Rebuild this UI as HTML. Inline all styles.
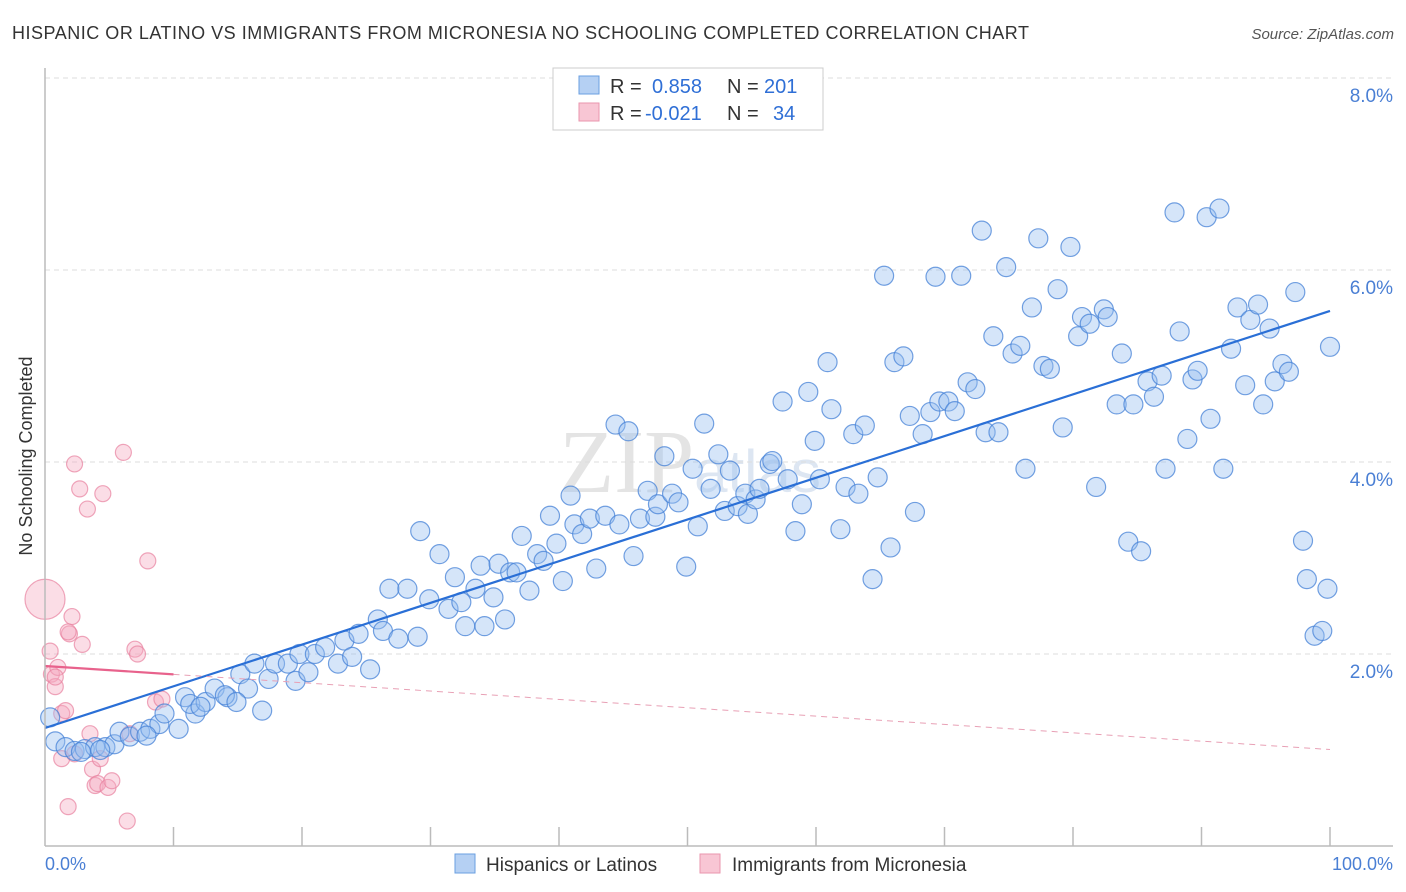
<!DOCTYPE html>
<html><head><meta charset="utf-8"><style>
body{margin:0;background:#fff;font-family:"Liberation Sans",sans-serif;}
#wrap{position:relative;width:1406px;height:892px;overflow:hidden;}
</style></head><body>
<div id="wrap">
<svg id="chart" width="1406" height="892">
<text x="12" y="39" font-size="18" fill="#333" textLength="1017" lengthAdjust="spacing">HISPANIC OR LATINO VS IMMIGRANTS FROM MICRONESIA NO SCHOOLING COMPLETED CORRELATION CHART</text>
<text x="1394" y="39" font-size="15" fill="#555" font-style="italic" text-anchor="end">Source: ZipAtlas.com</text>
<text x="32" y="456" font-size="18" fill="#333" text-anchor="middle" transform="rotate(-90 32 456)">No Schooling Completed</text>
<text x="690" y="492" font-size="90" fill="#e4e4e4" text-anchor="middle" font-family="Liberation Serif,serif">ZIP<tspan font-size="60" font-family="Liberation Sans,sans-serif" fill="#dde6f2">atlas</tspan></text>
<g id="grid"></g><g id="pink"></g><g id="blue"></g><g id="lines"></g>
<line x1="45" y1="68" x2="45" y2="846" stroke="#bbb" stroke-width="1.5"/>
<line x1="45" y1="846" x2="1393" y2="846" stroke="#bbb" stroke-width="1.5"/>
<g id="ticks"></g>
<text x="45" y="870" font-size="18" fill="#4a7fd4">0.0%</text>
<text x="1393" y="870" font-size="18" fill="#4a7fd4" text-anchor="end">100.0%</text>
<g>
<rect x="553" y="68" width="270" height="62" fill="#fff" stroke="#ccc"/>
<rect x="579" y="76" width="20" height="18" fill="#b5d0f3" stroke="#6a9fe0"/>
<rect x="579" y="103" width="20" height="18" fill="#f8c6d4" stroke="#ea96ae"/>
<text x="610" y="93" font-size="20" fill="#333">R = <tspan fill="#2f6fd6" x="652">0.858</tspan><tspan x="727" fill="#333">N = </tspan><tspan fill="#2f6fd6" x="764">201</tspan></text>
<text x="610" y="120" font-size="20" fill="#333">R = <tspan fill="#2f6fd6" x="645">-0.021</tspan><tspan x="727" fill="#333">N = </tspan><tspan fill="#2f6fd6" x="773">34</tspan></text>
</g>
<g>
<rect x="455" y="854" width="20" height="19" fill="#b5d0f3" stroke="#6a9fe0"/>
<text x="486" y="871" font-size="19" fill="#333">Hispanics or Latinos</text>
<rect x="700" y="854" width="20" height="19" fill="#f8c6d4" stroke="#ea96ae"/>
<text x="732" y="871" font-size="19" fill="#333">Immigrants from Micronesia</text>
</g>
</svg></div>
<script>
const yTicks=[2,4,6,8];
const yTickLabels=["2.0%","4.0%","6.0%","8.0%"];
const blueX=[0.4,0.8,1.6,2.3,3.1,3.9,4.7,5.4,5.8,6.6,7.4,8.2,8.9,9.3,10.4,10.9,11.7,11.3,12.5,13.2,14.2,15.2,15.8,16.3,16.9,17.4,17.9,18.9,19.5,19.8,20.5,21,21.8,22.8,23.3,23.9,24.4,25.3,25.9,26.3,27.5,26.8,28.2,29,29.2,29.9,30.7,31.4,31.9,32.4,32.7,33.5,33.9,34.2,34.9,35.3,35.8,36.2,36.7,37.1,37.7,38.3,38.8,39.3,39.8,40.3,40.9,41.2,41.8,42.4,42.9,43.6,44.4,44.7,45.4,45.8,46.3,46.9,47.5,47.7,48.2,48.8,49.3,49.9,50.4,50.8,51.3,51.8,52.4,52.9,53.3,53.9,54.5,54.7,55.3,55.6,56.4,56.6,57.4,57.8,58.4,58.9,59.4,59.9,60.3,60.9,61.2,61.9,62.3,62.9,63.3,63.8,64.4,64.8,65.3,65.8,66.1,66.8,67.3,67.7,68.3,68.9,69.3,69.6,70.3,70.8,71.3,71.8,72.4,72.9,73.2,73.8,74.2,74.8,75.3,75.9,76.3,76.8,77.3,77.7,78.2,78.8,79.2,79.8,80.4,80.7,81.3,81.8,82.4,82.7,83.4,83.8,84.3,84.7,85.3,85.8,86.3,86.9,87.2,87.9,88.3,88.9,89.3,89.7,90.4,90.7,91.4,91.7,92.3,92.8,93.4,93.8,94.4,94.8,95.3,95.7,96.3,96.8,97.3,97.9,98.2,98.8,99.4,99.8,100,12.1,14,14.9,2.8,4.3,7.9];
const blueY=[1.34,1.09,1.03,0.99,1.01,1.03,1.03,1.06,1.19,1.14,1.19,1.22,1.27,1.38,1.22,1.55,1.38,1.48,1.5,1.64,1.55,1.79,1.64,1.9,1.41,1.74,1.9,1.9,1.72,2.0,1.81,2.0,2.07,1.9,2.14,1.97,2.21,1.84,2.36,2.24,2.16,2.68,2.68,2.18,3.28,2.57,3.04,2.47,2.8,2.54,2.29,2.68,2.92,2.29,2.59,2.94,2.36,2.85,2.85,3.23,2.66,3.04,2.97,3.44,3.15,2.76,3.65,3.35,3.25,3.41,2.89,3.44,4.39,3.35,4.32,3.02,3.41,3.7,3.43,3.56,4.06,3.67,3.58,2.91,3.93,3.33,4.4,3.72,4.08,3.49,3.91,3.54,3.67,3.46,3.61,3.72,3.98,4.01,4.63,3.82,3.28,3.56,4.73,4.22,3.82,5.04,4.55,3.3,3.74,4.29,3.67,4.38,2.78,3.84,5.94,3.11,5.04,5.1,4.48,3.48,4.29,4.52,5.93,4.63,4.63,4.53,5.94,4.83,4.76,6.41,4.31,5.31,4.31,6.03,5.13,5.21,3.93,5.61,6.33,5.0,4.97,5.8,4.36,6.24,5.31,5.51,5.44,3.74,5.59,5.51,4.6,5.13,3.17,4.6,3.07,4.84,4.68,4.9,3.93,6.6,5.36,4.24,4.86,4.95,6.55,4.45,6.64,3.93,5.18,5.61,4.8,5.48,5.64,4.6,5.39,4.84,5.02,4.94,5.77,3.18,2.78,2.19,2.24,2.68,5.2,1.45,1.57,1.5,0.98,1.0,1.15];
const pinkX=[0,0.4,0.5,0.8,1,0.8,1.3,1.6,1.8,2.1,1.9,1.8,2.3,2.7,2.9,3.3,3.5,3.7,3.9,4.1,4.3,4.5,4.9,5.2,6.1,6.4,6.6,7,7.2,8,8.6,9.1,1.3,2.3];
const pinkY=[2.57,2.03,1.79,1.66,1.86,1.76,1.38,1.41,0.41,2.39,2.21,2.23,3.98,3.72,2.1,3.51,1.17,0.8,0.63,0.65,0.91,3.67,0.61,0.68,4.1,0.26,1.17,2.05,2.0,2.97,1.5,1.53,0.91,0.96];
const pinkR=[20,8,8,8,8,8,8,8,8,8,8,8,8,8,8,8,8,8,8,8,8,8,8,8,8,8,8,8,8,8,8,8,8,8];
const NS="http://www.w3.org/2000/svg";
const X=v=>45+v*12.85, Y=v=>846-v*96;
function mk(t,a,p){const e=document.createElementNS(NS,t);for(const k in a)e.setAttribute(k,a[k]);p.appendChild(e);return e;}
const grid=document.getElementById('grid');
yTicks.forEach((t,i)=>{
 const l=mk('line',{x1:45,x2:1393,y1:Y(t),y2:Y(t),stroke:'#ddd','stroke-dasharray':'5,4'},grid);
 
 
 const tx=mk('text',{x:1393,y:Y(t)+24,'font-size':19,fill:'#4a7fd4','text-anchor':'end'},grid);
 tx.textContent=yTickLabels[i];
 
 
});
const ticks=document.getElementById('ticks');
for(let k=1;k<=10;k++){const l=mk('line',{x1:X(k*10),x2:X(k*10),y1:827,y2:846,stroke:'#bbb','stroke-width':1.5},ticks);
 
 }
const pg=document.getElementById('pink');
pinkX.forEach((x,i)=>{const c=mk('circle',{cx:X(x),cy:Y(pinkY[i]),r:pinkR[i],fill:'rgba(244,170,192,0.4)',stroke:'rgba(232,130,160,0.7)','stroke-width':1.2},pg);
 
 });
const bg=document.getElementById('blue');
blueX.forEach((x,i)=>{const c=mk('circle',{cx:X(x),cy:Y(blueY[i]),r:9.5,fill:'rgba(150,190,240,0.4)',stroke:'rgba(70,130,215,0.75)','stroke-width':1.2},bg);
 
 });
function fit(xs,ys){const n=xs.length;let sx=0,sy=0,sxx=0,sxy=0;for(let i=0;i<n;i++){sx+=xs[i];sy+=ys[i];sxx+=xs[i]*xs[i];sxy+=xs[i]*ys[i];}const b=(n*sxy-sx*sy)/(n*sxx-sx*sx);return [(sy-b*sx)/n,b];}
const lg=document.getElementById('lines');
const [ba,bb]=fit(blueX,blueY);
const bl=mk('line',{x1:X(0),y1:Y(ba),x2:X(100),y2:Y(ba+bb*100),stroke:'#2a6fd6','stroke-width':2.2},lg);


const pa=1.875,pb=-0.0087;
const pl=mk('line',{x1:X(0),y1:Y(pa),x2:X(10),y2:Y(pa+pb*10),stroke:'#e8628c','stroke-width':2.2},lg);


const pd=mk('line',{x1:X(10),y1:Y(pa+pb*10),x2:X(100),y2:Y(pa+pb*100),stroke:'#e8a0b5','stroke-width':1,'stroke-dasharray':'6,5'},lg);


</script>
</body></html>
